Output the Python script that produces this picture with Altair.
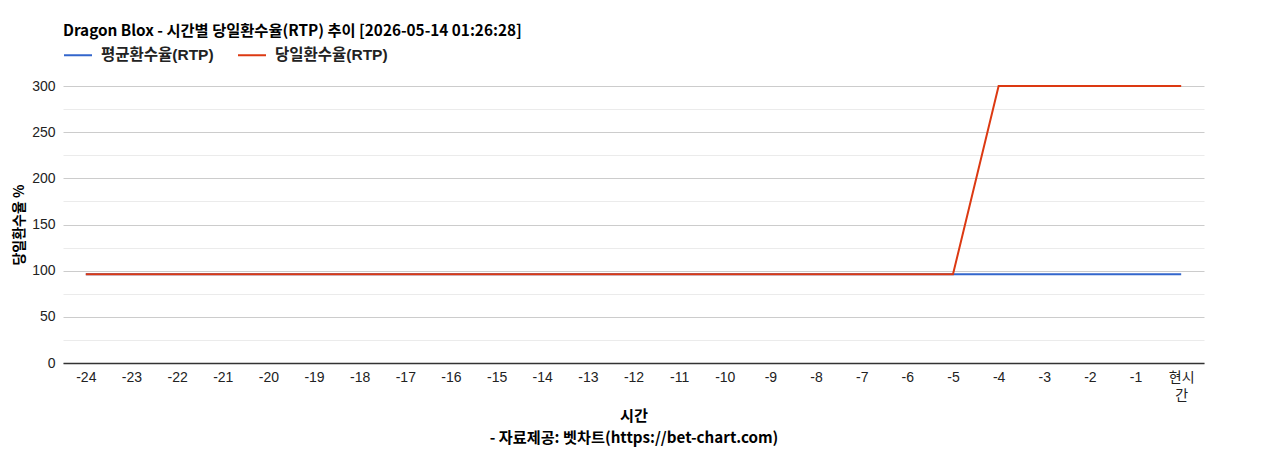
import altair as alt
import pandas as pd

hours = [str(h) for h in range(-24, 0)] + ["현시간"]
avg_rtp = [96] * 25
day_rtp = [96] * 20 + [300] * 5
series_names = ["평균환수율(RTP)", "당일환수율(RTP)"]
colors = ["#3366cc", "#dc3912"]
y_ticks = list(range(0, 301, 25))

rows = []
for i, h in enumerate(hours):
    rows.append({"hour": h, "series": series_names[0], "value": avg_rtp[i], "ord": 0})
for i, h in enumerate(hours):
    rows.append({"hour": h, "series": series_names[1], "value": day_rtp[i], "ord": 1})
df = pd.DataFrame(rows)

FONT = "Liberation Sans, Noto Sans CJK KR, sans-serif"
BOLD = "Noto Sans CJK KR, Noto Sans, sans-serif"

chart = alt.Chart(df).mark_line(strokeWidth=2).encode(
    x=alt.X(
        "hour:N",
        sort=hours,
        scale=alt.Scale(type="point", padding=0.5),
        axis=alt.Axis(
            title=["시간", "- 자료제공: 벳차트(https://bet-chart.com)"],
            titleFont=BOLD,
            titleFontSize=15.2,
            titleFontWeight="bold",
            titleColor="#000",
            titleLineHeight=22,
            titlePadding=6,
            labelAngle=0,
            labelFont=FONT,
            labelFontSize=14,
            labelColor="#222",
            labelPadding=7,
            labelLineHeight=18,
            labelExpr="datum.value == '현시간' ? ['현시', '간'] : datum.value",
            ticks=False,
            domainColor="#333",
            domainWidth=1.3,
            grid=False,
        ),
    ),
    y=alt.Y(
        "value:Q",
        scale=alt.Scale(domain=[0, 300], nice=False),
        axis=alt.Axis(
            title="당일환수율 %",
            titleFont=BOLD,
            titleFontSize=14,
            titleFontWeight="bold",
            titleColor="#000",
            titlePadding=5,
            values=y_ticks,
            labelExpr="datum.value % 50 == 0 ? datum.label : ''",
            labelFont=FONT,
            labelFontSize=14,
            labelColor="#222",
            labelPadding=8,
            ticks=False,
            domain=False,
            gridColor={"condition": {"test": "datum.value % 50 == 0", "value": "#cccccc"}, "value": "#ebebeb"},
        ),
    ),
    color=alt.Color(
        "series:N",
        sort=series_names,
        scale=alt.Scale(domain=series_names, range=colors),
        legend=alt.Legend(
            title=None,
            orient="none",
            legendX=0,
            legendY=-46,
            direction="horizontal",
            symbolType="stroke",
            symbolSize=784,
            symbolStrokeWidth=2,
            labelFont=FONT,
            labelFontSize=15.5,
            labelFontWeight="bold",
            labelColor="#222",
            columnPadding=20,
            labelOffset=8,
        ),
    ),
    order=alt.Order("ord:Q"),
    detail="series:N",
).properties(
    width=1141,
    height=277,
    autosize=alt.AutoSizeParams(type="none"),
    title=alt.TitleParams(
        text="Dragon Blox - 시간별 당일환수율(RTP) 추이 [2026-05-14 01:26:28]",
        anchor="start",
        frame="group",
        font=BOLD,
        fontSize=15.3,
        fontWeight="bold",
        color="#000",
        offset=1,
    ),
    padding={"left": 55, "top": 78, "right": 30, "bottom": 100},
).configure_view(stroke=None)

chart.save("out.html", embed_options={"renderer": "svg", "actions": False})
